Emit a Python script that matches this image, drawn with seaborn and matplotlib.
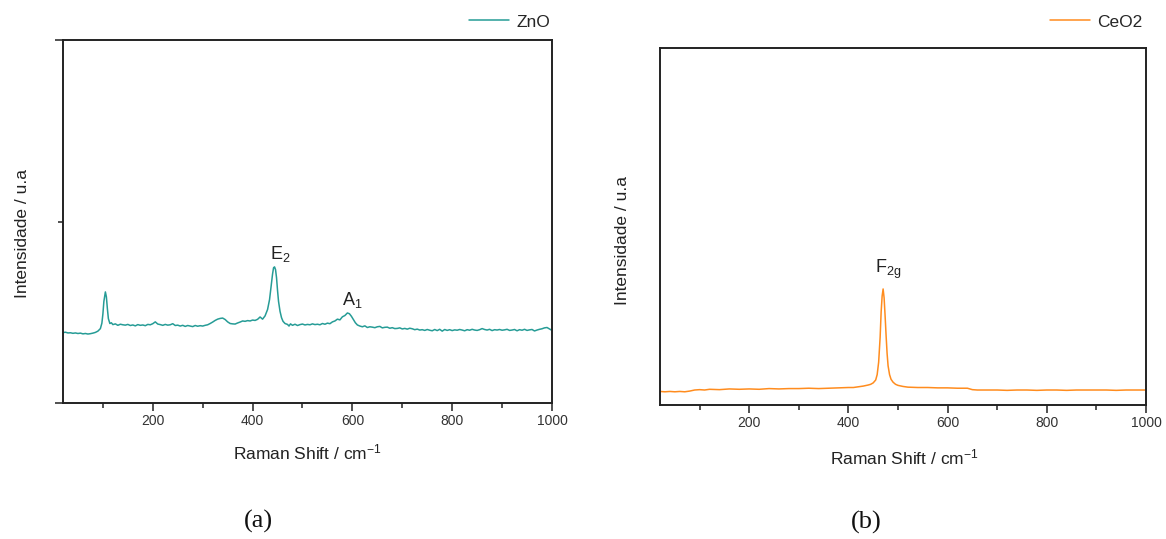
import matplotlib
matplotlib.use("Agg")
import matplotlib.pyplot as plt
import seaborn as sns
from matplotlib.ticker import MultipleLocator, FixedLocator

# ---------------- data ----------------
zno_shift = [20, 25, 30, 35, 40, 45, 50, 55, 60, 65,
             70, 75, 80, 85, 90, 95, 98, 100, 102, 105,
             107, 109, 111, 114, 117, 120, 125, 130, 135, 140,
             145, 150, 155, 160, 165, 170, 175, 180, 185, 190,
             195, 200, 205, 210, 215, 220, 225, 230, 235, 240,
             245, 250, 255, 260, 265, 270, 275, 280, 285, 290,
             295, 300, 305, 310, 315, 320, 325, 330, 335, 340,
             345, 350, 355, 360, 365, 370, 375, 380, 385, 390,
             395, 400, 405, 410, 415, 420, 425, 430, 434, 437,
             440, 442, 444, 446, 448, 450, 452, 455, 458, 461,
             465, 470, 473, 476, 480, 485, 490, 495, 500, 505,
             510, 515, 520, 525, 530, 535, 540, 545, 550, 555,
             560, 565, 570, 575, 580, 585, 590, 594, 598, 602,
             606, 610, 615, 620, 625, 630, 635, 640, 645, 650,
             655, 660, 665, 670, 675, 680, 685, 690, 695, 700,
             705, 710, 715, 720, 725, 730, 735, 740, 745, 750,
             755, 760, 765, 770, 775, 780, 785, 790, 795, 800,
             805, 810, 815, 820, 825, 830, 835, 840, 845, 850,
             855, 860, 865, 870, 875, 880, 885, 890, 895, 900,
             905, 910, 915, 920, 925, 930, 935, 940, 945, 950,
             955, 960, 965, 970, 975, 980, 985, 990, 995, 1000]
zno_int = [388, 390, 386, 387, 384, 386, 383, 385, 381, 383,
           380, 382, 385, 389, 396, 410, 440, 490, 560, 612,
           585, 520, 465, 438, 442, 432, 436, 428, 434, 431,
           429, 433, 427, 430, 425, 432, 428, 430, 426, 433,
           431, 437, 447, 435, 432, 428, 433, 429, 431, 437,
           427, 429, 424, 428, 422, 427, 424, 421, 427, 423,
           426, 424, 428, 431, 438, 446, 455, 462, 466, 468,
           460, 447, 438, 436, 435, 441, 446, 452, 450, 454,
           452, 457, 455, 461, 474, 462, 480, 515, 570, 640,
           710, 745, 750, 735, 690, 620, 560, 505, 470, 450,
           438, 433, 424, 436, 428, 434, 427, 432, 435, 430,
           433, 431, 436, 432, 434, 431, 438, 434, 440, 437,
           447, 452, 462, 458, 475, 482, 496, 492, 478, 460,
           442, 430, 424, 420, 425, 416, 420, 418, 415, 420,
           422, 414, 417, 418, 412, 415, 410, 411, 414, 408,
           411, 407, 412, 409, 404, 407, 402, 404, 400, 405,
           401, 398, 405, 399, 406, 396, 405, 400, 404, 399,
           403, 401, 405, 402, 398, 404, 401, 406, 402, 400,
           404, 410, 405, 402, 406, 399, 404, 402, 405, 401,
           403, 406, 400, 402, 405, 398, 404, 401, 406, 400,
           403, 405, 397, 402, 406, 409, 414, 416, 408, 400]

ceo2_shift = [20, 30, 40, 50, 60, 70, 80, 90, 100, 110,
              120, 140, 160, 180, 200, 220, 240, 260, 280, 300,
              320, 340, 360, 380, 400, 410, 420, 430, 440, 445,
              450, 455, 458, 461, 464, 466, 468, 470, 472, 474,
              476, 478, 480, 483, 486, 490, 495, 500, 510, 520,
              540, 560, 580, 600, 620, 640, 650, 660, 680, 700,
              720, 740, 760, 780, 800, 820, 840, 860, 880, 900,
              920, 940, 960, 980, 1000]
ceo2_int = [38, 37, 38, 37, 38, 37, 39, 42, 43, 42,
            44, 43, 45, 44, 45, 44, 46, 45, 46, 46,
            47, 46, 47, 48, 49, 49, 51, 53, 56, 58,
            62, 70, 85, 120, 190, 260, 305, 325, 300, 250,
            195, 145, 110, 85, 72, 64, 58, 55, 52, 50,
            49, 49, 48, 48, 47, 47, 43, 42, 42, 42,
            41, 42, 42, 41, 42, 42, 41, 42, 42, 42,
            42, 41, 42, 42, 42]

x_major = [200, 400, 600, 800, 1000]

zno_color = "#269c96"
ceo2_color = "#ff8c1e"

# ---------------- style ----------------
sns.set_style("ticks")
plt.rcParams["font.family"] = ["Liberation Sans", "DejaVu Sans"]
plt.rcParams["mathtext.fontset"] = "custom"
plt.rcParams["mathtext.rm"] = "Liberation Sans"
plt.rcParams["mathtext.it"] = "Liberation Sans:italic"
plt.rcParams["mathtext.bf"] = "Liberation Sans:bold"

fig = plt.figure(figsize=(11.66, 5.39), dpi=100)
axA = fig.add_axes([0.054, 0.2523, 0.4194, 0.6735])
axB = fig.add_axes([0.566, 0.2486, 0.4168, 0.6624])

sns.lineplot(x=zno_shift, y=zno_int, ax=axA, color=zno_color, lw=1.1, label="ZnO")
sns.lineplot(x=ceo2_shift, y=ceo2_int, ax=axB, color=ceo2_color, lw=1.1, label="CeO2")

for ax in (axA, axB):
    ax.set_xlim(20, 1000)
    ax.xaxis.set_major_locator(FixedLocator(x_major))
    ax.xaxis.set_minor_locator(MultipleLocator(100))
    ax.tick_params(axis="x", which="major", direction="out", length=6, width=1.1,
                   pad=2, labelsize=10, labelcolor="#333333", color="#222222")
    ax.tick_params(axis="x", which="minor", direction="out", length=3.5, width=1.1,
                   color="#222222")
    for s in ax.spines.values():
        s.set_linewidth(1.4)
        s.set_color("#222222")
    ax.set_xlabel(r"Raman Shift / cm$^{-1}$", fontsize=12.5, color="#222222")
    ax.set_ylabel("Intensidade / u.a", fontsize=12.5, color="#222222")

axA.set_ylim(0, 2000)
axA.yaxis.set_major_locator(FixedLocator([0, 2000]))
axA.yaxis.set_minor_locator(FixedLocator([1000]))
axA.tick_params(axis="y", which="major", direction="out", length=6, width=1.1,
                labelleft=False, color="#222222")
axA.tick_params(axis="y", which="minor", direction="out", length=3.5, width=1.1,
                color="#222222")

axB.set_ylim(0, 1000)
axB.tick_params(axis="y", which="both", left=False, labelleft=False)

axA.xaxis.set_label_coords(0.5, -0.108)
axB.xaxis.set_label_coords(0.502, -0.118)
axA.yaxis.set_label_coords(-0.0675, 0.466)
axB.yaxis.set_label_coords(-0.062, 0.46)

axA.legend(loc="center right", bbox_to_anchor=(0.996, 1.0496), frameon=False,
           handlelength=2.3, handletextpad=0.42, borderaxespad=0, borderpad=0,
           fontsize=12.5)
axB.legend(loc="center right", bbox_to_anchor=(0.992, 1.0728), frameon=False,
           handlelength=2.3, handletextpad=0.42, borderaxespad=0, borderpad=0,
           fontsize=12.5)

axA.text(455, 795, r"E$_{2}$", ha="center", va="baseline", fontsize=13, color="#222222")
axA.text(600, 541, r"A$_{1}$", ha="center", va="baseline", fontsize=13, color="#222222")
axB.text(480, 370, r"F$_{\mathrm{2g}}$", ha="center", va="baseline", fontsize=13,
         color="#222222")

fig.text(0.2213, 0.0334, "(a)", family="Liberation Serif", fontsize=19,
         ha="center", va="center", color="#111111")
fig.text(0.7427, 0.0315, "(b)", family="Liberation Serif", fontsize=19,
         ha="center", va="center", color="#111111")

fig.savefig("out.png", dpi=100)
